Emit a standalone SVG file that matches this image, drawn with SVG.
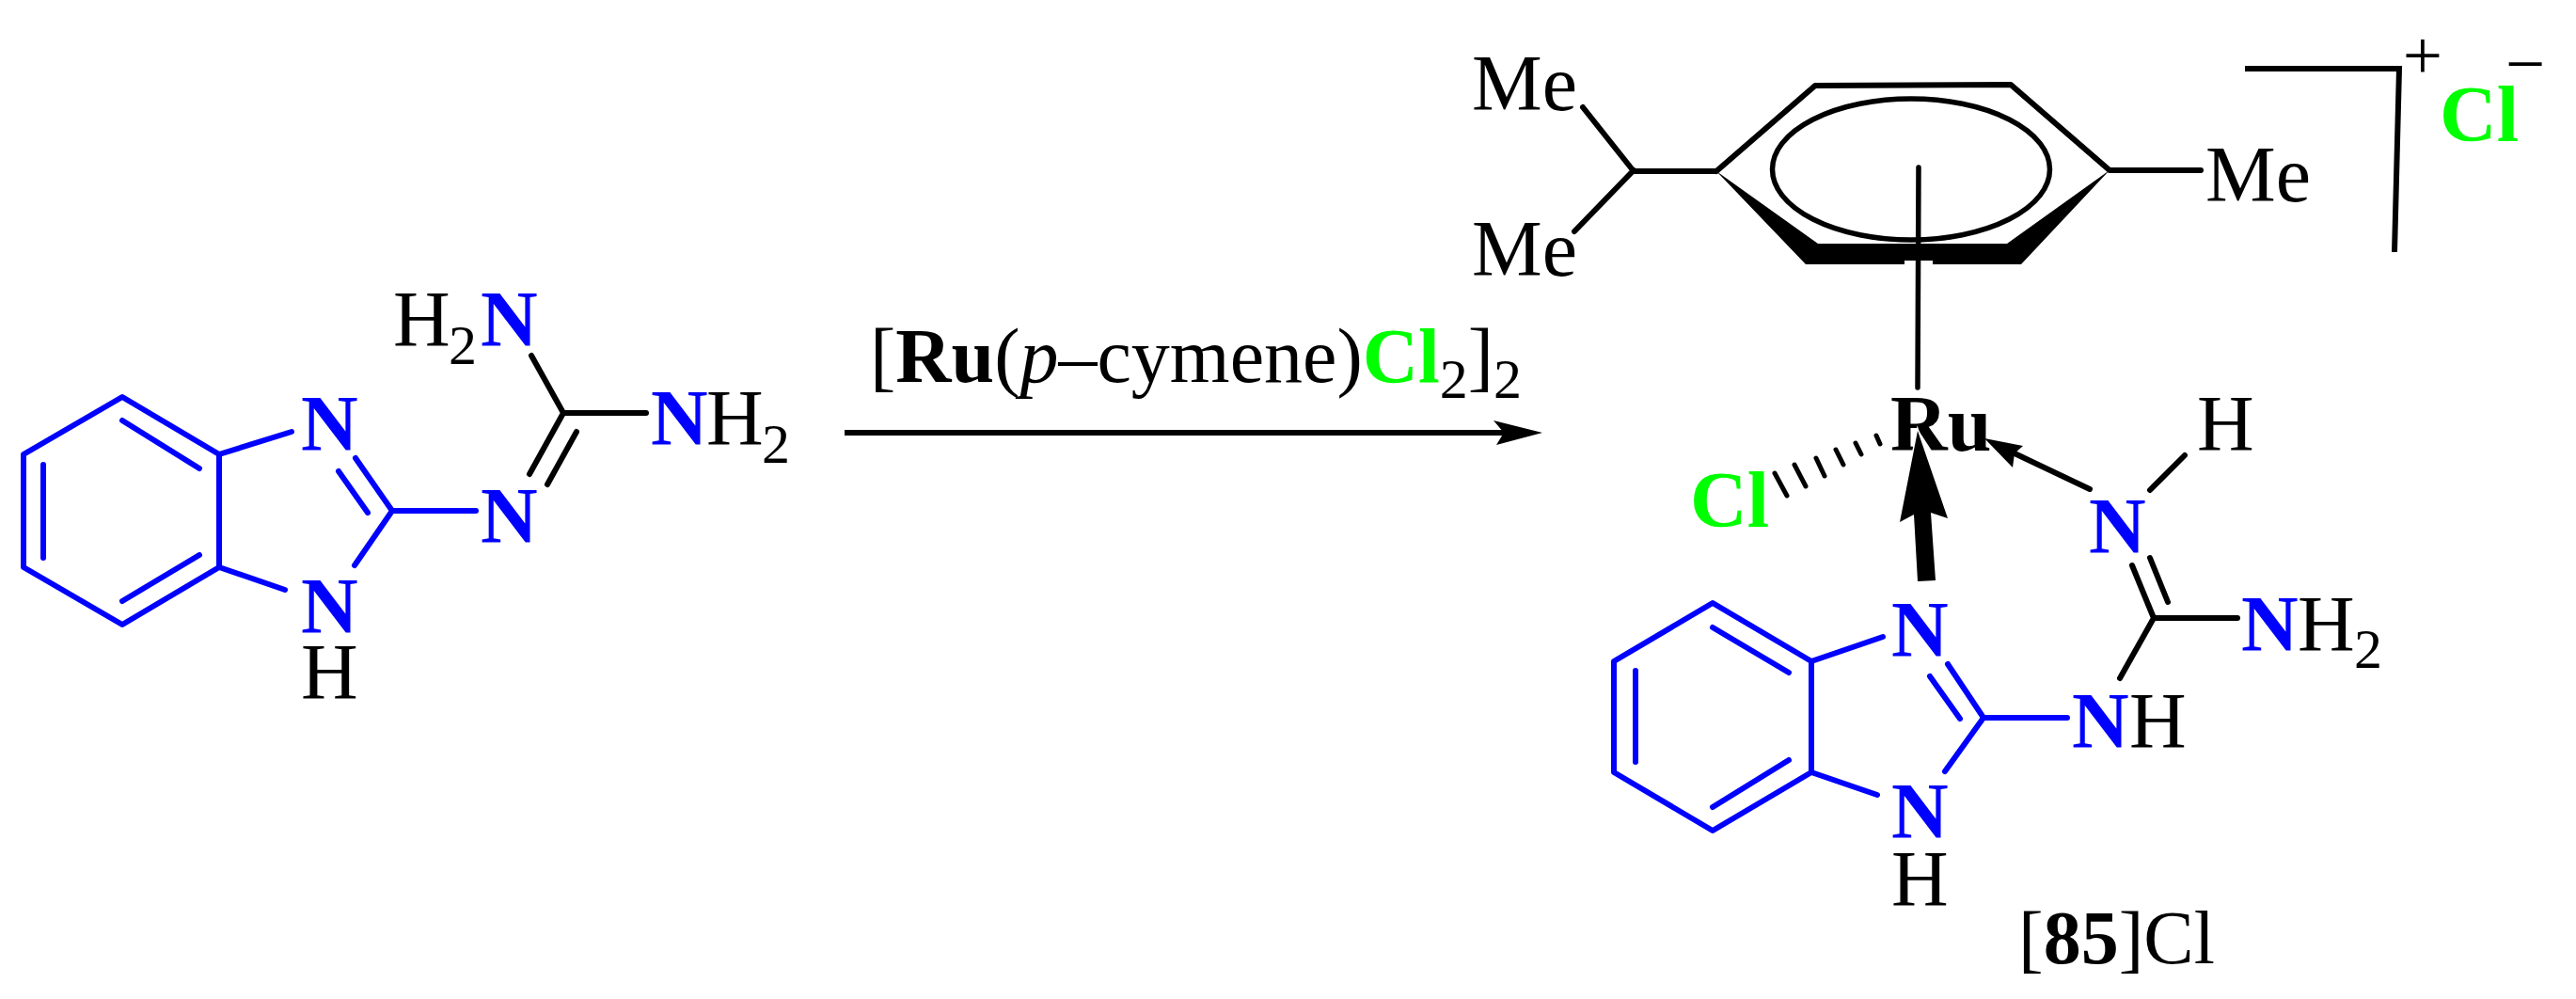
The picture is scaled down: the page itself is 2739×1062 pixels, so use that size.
<svg xmlns="http://www.w3.org/2000/svg" width="2739" height="1062" viewBox="0 0 2739 1062">
<style>
text{font-family:"Liberation Serif","Times New Roman",serif;font-size:84px;fill:#000}
.b{fill:#0000ff;font-weight:bold}
.g{fill:#00ff00;font-weight:bold}
.k{font-weight:bold}
.s{font-size:60px}
.bl{stroke:#0000ff;stroke-width:6;fill:none;stroke-linecap:round;stroke-linejoin:round}
.bk{stroke:#000;stroke-width:6;fill:none;stroke-linecap:round;stroke-linejoin:round}
.th{stroke:#000;stroke-width:5;fill:none;stroke-linecap:round}
</style>
<rect width="2739" height="1062" fill="#fff"/>
<g id="reactant">
<path class="bl" d="M130 422L233 483V603L130 664L25 603V483ZM130 447L212 498M46 494V593M130 639L212 590M233 483L310 459M233 603L303 627M378 487L417 543L377 601M360 501L391 545M417 543H506"/>
<path class="bk" d="M565 378L599 439L563 504M613 459L582 515M599 439H687"/>
<text class="b" x="320" y="479">N</text>
<text class="b" x="320" y="673">N</text>
<text x="320" y="743">H</text>
<text class="b" x="511" y="577">N</text>
<text x="418" y="368">H</text><text class="s" x="477" y="387">2</text><text class="b" x="511" y="368">N</text>
<text class="b" x="692" y="473">N</text><text x="751" y="473">H</text><text class="s" x="810" y="492">2</text>
</g>
<g id="reaction">
<path d="M898 460H1600" stroke="#000" stroke-width="6" fill="none"/>
<path d="M1640 460L1588 447L1599 460L1591 473Z" fill="#000"/>
<text x="925" y="406" style="font-size:82px">[<tspan class="k">Ru</tspan>(<tspan font-style="italic">p</tspan>–cymene)<tspan class="g">Cl</tspan><tspan class="s" dy="17">2</tspan><tspan dy="-17">]</tspan><tspan class="s" dy="17">2</tspan></text>
</g>
<g id="product">
<path d="M1825 182L1933 259H2134L2243 181L2149 281H1920Z" fill="#000"/>
<rect x="2025" y="277" width="30" height="6" fill="#fff"/>
<path class="bk" d="M1825 182L1930 91L2138 90L2243 181H2340M1825 182H1737L1683 114M1737 181L1674 246"/>
<ellipse cx="2032" cy="180" rx="147.5" ry="75" fill="none" stroke="#000" stroke-width="5.5"/>
<path class="bk" style="stroke-width:5.5" d="M2040 178L2039 412"/>
<text x="1565" y="117">Me</text>
<text x="1565" y="293">Me</text>
<text x="2345" y="214">Me</text>
<path d="M2387 73H2551L2546 268" stroke="#000" stroke-width="6" fill="none"/>
<text x="2576" y="84" text-anchor="middle" style="font-size:75px">+</text>
<text x="2685" y="93" text-anchor="middle" style="font-size:75px">−</text>
<text class="g" x="2594" y="150">Cl</text>
<text class="k" x="2010" y="479">Ru</text>
<text x="2336" y="479">H</text>
<path class="bk" d="M2323 484L2286 521"/>
<path class="bk" d="M2222 520L2142 482"/>
<path d="M2110 466L2151 474L2142 482L2140 497Z" fill="#000"/>
<path class="th" d="M1887 503L1900 527M1908 494L1920 517M1931 487L1940 506M1952 478L1960 494M1973 471L1979 483M1995 463L1999 472"/>
<text class="g" x="1797" y="560">Cl</text>
<path d="M2039 458L2071 551L2053 545L2058 617L2039 618L2035 547L2020 555Z" fill="#000" stroke="#fff" stroke-width="3" paint-order="stroke"/>
<path class="bl" d="M1821 641L1926 703V821L1821 883L1716 821V703ZM1821 667L1902 715M1739 713V810M1821 858L1902 808M1926 703L2002 677M1926 821L1996 845M2071 706L2109 763L2068 820M2052 719L2084 764M2109 763H2198"/>
<path class="bk" d="M2267 601L2290 657L2254 721M2286 593L2305 640M2290 657H2379"/>
<text class="b" x="2011" y="698">N</text>
<text class="b" x="2011" y="891">N</text>
<text x="2011" y="963">H</text>
<text class="b" x="2203" y="795">N</text><text x="2264" y="795">H</text>
<text class="b" x="2221" y="588">N</text>
<text class="b" x="2383" y="692">N</text><text x="2443" y="692">H</text><text class="s" x="2503" y="710">2</text>
<text x="2146" y="1024" style="font-size:80px">[<tspan class="k">85</tspan>]Cl</text>
</g>
</svg>
